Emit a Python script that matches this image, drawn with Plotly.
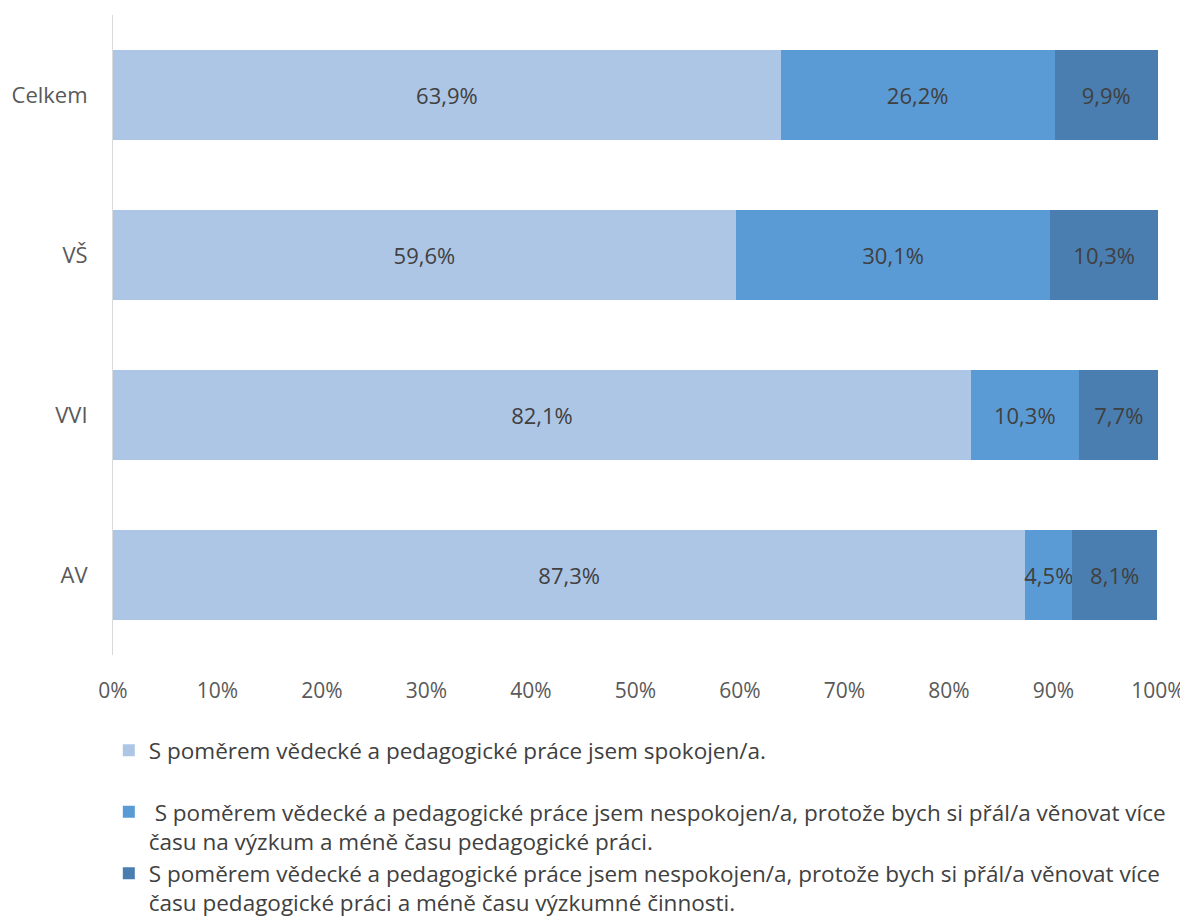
import plotly.graph_objects as go

categories = ["Celkem", "VŠ", "VVI", "AV"]
spokojen = [63.9, 59.6, 82.1, 87.3]
vice_vyzkum = [26.2, 30.1, 10.3, 4.5]
vice_pedagogika = [9.9, 10.3, 7.7, 8.1]
tick_vals = [0, 10, 20, 30, 40, 50, 60, 70, 80, 90, 100]
tick_text = [f"{v}%" for v in tick_vals]

names = [
    "S poměrem vědecké a pedagogické práce jsem spokojen/a.<br> ",
    " S poměrem vědecké a pedagogické práce jsem nespokojen/a, protože bych si přál/a věnovat více<br>času na výzkum a méně času pedagogické práci.",
    "S poměrem vědecké a pedagogické práce jsem nespokojen/a, protože bych si přál/a věnovat více<br>času pedagogické práci a méně času výzkumné činnosti.",
]
colors = ["#AEC6E5", "#5B9BD5", "#4A7EB0"]
series = [spokojen, vice_vyzkum, vice_pedagogika]

fig = go.Figure()
for name, vals, col in zip(names, series, colors):
    fig.add_trace(go.Bar(
        y=categories, x=vals, name=name, orientation="h",
        marker=dict(color=col, line=dict(width=0)),
        texttemplate="%{x:.1f}%", textposition="inside", insidetextanchor="middle",
        textangle=0,
        textfont=dict(family="Open Sans", size=22, color="#404040"),
        constraintext="none",
    ))

fig.update_layout(
    barmode="stack",
    bargap=0.4375,
    separators=", ",
    width=1180, height=910,
    paper_bgcolor="white", plot_bgcolor="white",
    margin=dict(l=105, r=30, t=7, b=263, autoexpand=False),
    font=dict(family="Open Sans", size=21, color="#595959"),
    xaxis=dict(range=[0, 100], tickvals=tick_vals, ticktext=tick_text, showgrid=False,
               zeroline=False, showline=False, ticks="", ticklabelstandoff=21,
               automargin=False, tickfont=dict(size=21, color="#595959")),
    yaxis=dict(autorange="reversed", showline=True, linecolor="#D9D9D9", linewidth=1,
               ticks="", ticklabelstandoff=20, automargin=False,
               tickfont=dict(size=22, color="#595959")),
    legend=dict(orientation="v", x=-0.004, xanchor="left", y=-0.116, yanchor="top",
                valign="top", font=dict(family="Open Sans", size=22.5, color="#404040"),
                itemwidth=30, traceorder="normal", tracegroupgap=0),
    uniformtext=dict(mode=False),
)
fig.write_html("out.html")
